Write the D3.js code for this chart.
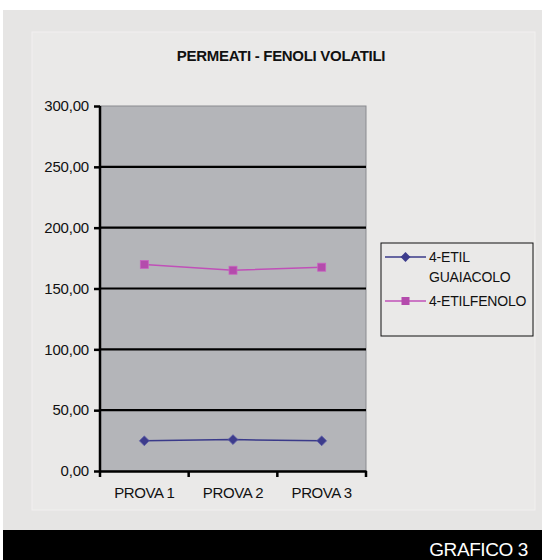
<!DOCTYPE html>
<html>
<head>
<meta charset="utf-8">
<script src="https://cdn.jsdelivr.net/npm/d3@7"></script>
<style>
  body { margin: 0; background: #fff; }
  svg { display: block; font-family: Arial, "Liberation Sans", sans-serif; }
</style>
</head>
<body>
<div id="chart"></div>
<script>
// data
let categories = ["PROVA 1", "PROVA 2", "PROVA 3"];
let guaiacolo = [24.8, 25.8, 24.8];
let etilfenolo = [169.8, 165.0, 167.5];
let seriesNames = ["4-ETIL GUAIACOLO", "4-ETILFENOLO"];
let yTicks = [0, 50, 100, 150, 200, 250, 300];

let W = 542, H = 560;
let margin = {top: 106, left: 100, right: 176, bottom: 89};

let svg = d3.select("#chart").append("svg")
    .attr("width", W)
    .attr("height", H);

// background panels
svg.append("rect").attr("x", 3).attr("y", 10).attr("width", 539).attr("height", 520).attr("fill", "#e6e5e4");
svg.append("rect").attr("x", 32).attr("y", 32).attr("width", 503).attr("height", 478)
    .attr("fill", "#eae9e8").attr("stroke", "#f1f0ef").attr("stroke-width", 1);
svg.append("rect").attr("x", 3).attr("y", 530).attr("width", 539).attr("height", 30).attr("fill", "#000");
svg.append("text")
    .attr("x", 528).attr("y", 556)
    .attr("text-anchor", "end")
    .attr("fill", "#fff")
    .attr("font-size", 19)
    .attr("letter-spacing", -0.4)
    .text("GRAFICO 3");

// title
svg.append("text")
    .attr("x", 281).attr("y", 61)
    .attr("text-anchor", "middle")
    .attr("font-size", 15)
    .attr("font-weight", "bold")
    .attr("letter-spacing", -0.3)
    .attr("fill", "#111")
    .text("PERMEATI - FENOLI VOLATILI");

let width = W - margin.left - margin.right;
let height = H - margin.top - margin.bottom;

let x = d3.scaleBand().domain(categories).range([0, width]);
let y = d3.scaleLinear().domain([0, 300]).range([height, 0]);

let g = svg.append("g").attr("transform", "translate(" + margin.left + "," + margin.top + ")");

// plot area
g.append("rect")
    .attr("width", width).attr("height", height)
    .attr("fill", "#b4b5b9")
    .attr("stroke", "#8a8b8f");

// gridlines
g.selectAll(".grid")
    .data(yTicks.filter(d => d > 0 && d < 300))
    .enter().append("line")
    .attr("x1", 0).attr("x2", width)
    .attr("y1", d => y(d)).attr("y2", d => y(d))
    .attr("stroke", "#000").attr("stroke-width", 2.2);

// y axis
let yAxis = g.append("g")
    .call(d3.axisLeft(y).tickValues(yTicks).tickSize(6).tickPadding(5)
        .tickFormat(d => d3.format(".2f")(d).replace(".", ",")));
yAxis.select(".domain").attr("stroke-width", 2.5).attr("d", "M0," + height + "V0");
yAxis.selectAll(".tick line").attr("stroke-width", 2.5);
yAxis.selectAll("text").attr("font-size", 15).attr("fill", "#111").attr("letter-spacing", -0.2);

// x axis
let xAxis = g.append("g")
    .attr("transform", "translate(0," + height + ")")
    .call(d3.axisBottom(x).tickSize(0).tickPadding(16));
xAxis.select(".domain").attr("stroke-width", 2.5);
xAxis.selectAll("text").attr("font-size", 15).attr("fill", "#111").attr("letter-spacing", -0.4);
// category boundary ticks
g.selectAll(".xb")
    .data(categories.concat(["end"]))
    .enter().append("line")
    .attr("x1", (d, i) => i * x.bandwidth()).attr("x2", (d, i) => i * x.bandwidth())
    .attr("y1", height).attr("y2", height + 6)
    .attr("stroke", "#000").attr("stroke-width", 2.5);

let cx = d => x(d) + x.bandwidth() / 2;

let line = d3.line()
    .x((d, i) => cx(categories[i]))
    .y(d => y(d));

// 4-ETILFENOLO
g.append("path").datum(etilfenolo)
    .attr("fill", "none").attr("stroke", "#c050b8").attr("stroke-width", 1.5)
    .attr("d", line);
g.selectAll(".sq").data(etilfenolo).enter().append("rect")
    .attr("x", (d, i) => cx(categories[i]) - 4)
    .attr("y", d => y(d) - 4)
    .attr("width", 8).attr("height", 8)
    .attr("fill", "#b44bac").attr("stroke", "#c963c1").attr("stroke-width", 0.8);

// 4-ETIL GUAIACOLO
g.append("path").datum(guaiacolo)
    .attr("fill", "none").attr("stroke", "#3a3a8a").attr("stroke-width", 1.5)
    .attr("d", line);
let diamond = d3.symbol().type(d3.symbolDiamond2).size(62);
g.selectAll(".dm").data(guaiacolo).enter().append("path")
    .attr("transform", (d, i) => "translate(" + cx(categories[i]) + "," + y(d) + ")")
    .attr("d", diamond)
    .attr("fill", "#3d3c8c").attr("stroke", "#5a5aa8").attr("stroke-width", 0.8);

// legend
let lg = svg.append("g").attr("transform", "translate(381,243)");
lg.append("rect").attr("width", 152).attr("height", 93)
    .attr("fill", "none").attr("stroke", "#111").attr("stroke-width", 1);

lg.append("line").attr("x1", 4).attr("x2", 45).attr("y1", 14).attr("y2", 14)
    .attr("stroke", "#3a3a8a").attr("stroke-width", 1.5);
lg.append("path").attr("transform", "translate(24.5,14)").attr("d", diamond)
    .attr("fill", "#3d3c8c");
lg.append("text").attr("x", 48).attr("y", 19).attr("font-size", 14).attr("letter-spacing", -0.2)
    .attr("fill", "#111").text("4-ETIL");
lg.append("text").attr("x", 48).attr("y", 39).attr("font-size", 14).attr("letter-spacing", -0.2)
    .attr("fill", "#111").text("GUAIACOLO");

lg.append("line").attr("x1", 4).attr("x2", 45).attr("y1", 58).attr("y2", 58)
    .attr("stroke", "#c050b8").attr("stroke-width", 1.5);
lg.append("rect").attr("x", 20.5).attr("y", 54).attr("width", 8).attr("height", 8)
    .attr("fill", "#b44bac");
lg.append("text").attr("x", 48).attr("y", 63).attr("font-size", 14).attr("letter-spacing", -0.2)
    .attr("fill", "#111").text("4-ETILFENOLO");
</script>
</body>
</html>
